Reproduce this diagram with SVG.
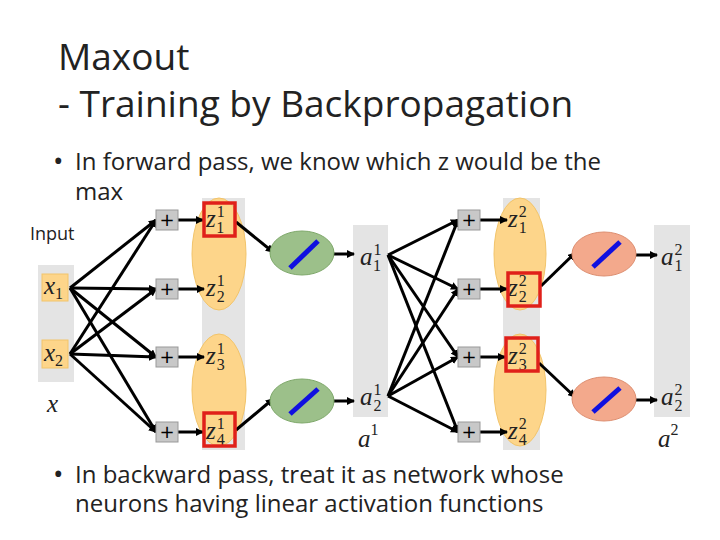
<svg xmlns="http://www.w3.org/2000/svg" width="720" height="540" viewBox="0 0 720 540">
<defs>
<marker id="ah" markerWidth="8" markerHeight="8" refX="7" refY="4" orient="auto" markerUnits="userSpaceOnUse"><path d="M0,0 L8,4 L0,8 z" fill="#000"/></marker>
<style>
.t{font-family:"Open Sans",Lato,sans-serif;fill:#222}
.m{font-family:"Liberation Serif",serif;font-style:italic;font-size:25px;fill:#222}
.s{font-size:16px;font-style:normal}
.col{fill:#e4e4e4}
.org{fill:#fdd58a;stroke:#f2c46a;stroke-width:1}
.plus{fill:#c8c8c8;stroke:#999;stroke-width:1}
.pt{font-family:"DejaVu Sans",sans-serif;font-size:18px;fill:#000;text-anchor:middle}
.red{fill:none;stroke:#e0201a;stroke-width:3.5}
.grn{fill:#9cc08a;stroke:#7ea86a}
.pnk{fill:#f3a98c;stroke:#dd8e70}
.bl{stroke:#1010e0;stroke-width:5}
.c{stroke:#000;stroke-width:3;fill:none;marker-end:url(#ah)}
</style>
</defs>
<rect width="720" height="540" fill="#fff"/>
<text class="t" x="58" y="70" font-size="37">Maxout</text>
<text class="t" x="58" y="117" font-size="37">- Training by Backpropagation</text>
<text class="t" x="53" y="171" font-size="28">•</text>
<text class="t" x="75" y="170" font-size="24">In forward pass, we know which z would be the</text>
<text class="t" x="75" y="200" font-size="24">max</text>
<text class="t" x="30" y="240" font-size="18">Input</text>
<text class="t" x="53" y="484" font-size="28">•</text>
<text class="t" x="75" y="483" font-size="24">In backward pass, treat it as network whose</text>
<text class="t" x="75" y="512" font-size="24">neurons having linear activation functions</text>

<g id="columns">
<rect class="col" x="38" y="265" width="36" height="117"/>
<rect class="col" x="202" y="198" width="43" height="252"/>
<rect class="col" x="353" y="225" width="35" height="192"/>
<rect class="col" x="503" y="198" width="37" height="252"/>
<rect class="col" x="654" y="225" width="36" height="192"/>
<ellipse class="org" cx="219" cy="254" rx="27" ry="56"/>
<ellipse class="org" cx="219" cy="390" rx="27" ry="56"/>
<ellipse class="org" cx="520" cy="254" rx="26" ry="56"/>
<ellipse class="org" cx="520" cy="390" rx="26" ry="56"/>
</g>

<g id="connectors">
<line class="c" x1="70" y1="288" x2="156" y2="220"/>
<line class="c" x1="70" y1="288" x2="156" y2="289"/>
<line class="c" x1="70" y1="288" x2="156" y2="357"/>
<line class="c" x1="70" y1="288" x2="156" y2="432"/>
<line class="c" x1="70" y1="354" x2="156" y2="220"/>
<line class="c" x1="70" y1="354" x2="156" y2="289"/>
<line class="c" x1="70" y1="354" x2="156" y2="357"/>
<line class="c" x1="70" y1="354" x2="156" y2="432"/>
<line class="c" x1="178" y1="220" x2="203" y2="220"/>
<line class="c" x1="178" y1="289" x2="204" y2="289"/>
<line class="c" x1="178" y1="357" x2="204" y2="357"/>
<line class="c" x1="178" y1="432" x2="203" y2="432"/>
<line class="c" x1="236" y1="222" x2="273" y2="252"/>
<line class="c" x1="236" y1="430" x2="273" y2="399"/>
<line class="c" x1="333" y1="254" x2="354" y2="254"/>
<line class="c" x1="333" y1="401" x2="354" y2="401"/>
<line class="c" x1="388" y1="255" x2="458" y2="220"/>
<line class="c" x1="388" y1="255" x2="458" y2="289"/>
<line class="c" x1="388" y1="255" x2="458" y2="357"/>
<line class="c" x1="388" y1="255" x2="458" y2="432"/>
<line class="c" x1="388" y1="396" x2="458" y2="220"/>
<line class="c" x1="388" y1="396" x2="458" y2="289"/>
<line class="c" x1="388" y1="396" x2="458" y2="357"/>
<line class="c" x1="388" y1="396" x2="458" y2="432"/>
<line class="c" x1="480" y1="220" x2="507" y2="220"/>
<line class="c" x1="480" y1="289" x2="507" y2="289"/>
<line class="c" x1="480" y1="357" x2="505" y2="357"/>
<line class="c" x1="480" y1="432" x2="507" y2="432"/>
<line class="c" x1="541" y1="286" x2="575" y2="253"/>
<line class="c" x1="539" y1="363" x2="575" y2="397"/>
<line class="c" x1="636" y1="255" x2="657" y2="255"/>
<line class="c" x1="636" y1="400" x2="657" y2="400"/>
</g>

<g id="inputs">
<rect x="42" y="274" width="26" height="27" fill="#fdd58a" stroke="#f2c46a"/>
<rect x="42" y="340" width="26" height="28" fill="#fdd58a" stroke="#f2c46a"/>
<text class="m" x="44" y="294">x<tspan class="s" dy="5" font-size="14">1</tspan></text>
<text class="m" x="44" y="361">x<tspan class="s" dy="5" font-size="14">2</tspan></text>
<text class="m" x="47" y="412" font-size="26">x</text>
</g>

<g id="plus">
<rect class="plus" x="156" y="210" width="22" height="20"/><text class="pt" x="167" y="226">+</text>
<rect class="plus" x="156" y="279" width="22" height="20"/><text class="pt" x="167" y="295">+</text>
<rect class="plus" x="156" y="347" width="22" height="20"/><text class="pt" x="167" y="363">+</text>
<rect class="plus" x="156" y="422" width="22" height="20"/><text class="pt" x="167" y="438">+</text>
<rect class="plus" x="458" y="210" width="22" height="20"/><text class="pt" x="469" y="226">+</text>
<rect class="plus" x="458" y="279" width="22" height="20"/><text class="pt" x="469" y="295">+</text>
<rect class="plus" x="458" y="347" width="22" height="20"/><text class="pt" x="469" y="363">+</text>
<rect class="plus" x="458" y="422" width="22" height="20"/><text class="pt" x="469" y="438">+</text>
</g>

<g id="z1">
<text class="m" x="206" y="227">z<tspan class="s" dy="-10" dx="1">1</tspan><tspan class="s" dy="16" dx="-8">1</tspan></text>
<text class="m" x="206" y="296">z<tspan class="s" dy="-10" dx="1">1</tspan><tspan class="s" dy="16" dx="-8">2</tspan></text>
<text class="m" x="206" y="364">z<tspan class="s" dy="-10" dx="1">1</tspan><tspan class="s" dy="16" dx="-8">3</tspan></text>
<text class="m" x="206" y="439">z<tspan class="s" dy="-10" dx="1">1</tspan><tspan class="s" dy="16" dx="-8">4</tspan></text>
<rect class="red" x="204" y="203" width="31" height="33"/>
<rect class="red" x="204" y="413" width="31" height="33"/>
</g>

<g id="z2">
<text class="m" x="508" y="227">z<tspan class="s" dy="-10" dx="1">2</tspan><tspan class="s" dy="16" dx="-8">1</tspan></text>
<text class="m" x="508" y="296">z<tspan class="s" dy="-10" dx="1">2</tspan><tspan class="s" dy="16" dx="-8">2</tspan></text>
<text class="m" x="508" y="364">z<tspan class="s" dy="-10" dx="1">2</tspan><tspan class="s" dy="16" dx="-8">3</tspan></text>
<text class="m" x="508" y="439">z<tspan class="s" dy="-10" dx="1">2</tspan><tspan class="s" dy="16" dx="-8">4</tspan></text>
<rect class="red" x="508" y="273" width="32" height="33"/>
<rect class="red" x="506" y="338" width="32" height="33"/>
</g>

<g id="act1">
<ellipse class="grn" cx="302" cy="253" rx="32" ry="22"/>
<line class="bl" x1="290" y1="268" x2="318" y2="241"/>
<ellipse class="grn" cx="302" cy="401" rx="32" ry="22"/>
<line class="bl" x1="290" y1="414" x2="318" y2="389"/>
</g>
<g id="act2">
<ellipse class="pnk" cx="604" cy="254" rx="32" ry="22"/>
<line class="bl" x1="593" y1="267" x2="620" y2="242"/>
<ellipse class="pnk" cx="604" cy="399" rx="32" ry="22"/>
<line class="bl" x1="593" y1="412" x2="620" y2="388"/>
</g>

<g id="a1">
<text class="m" x="360" y="265">a<tspan class="s" dy="-10" dx="1">1</tspan><tspan class="s" dy="16" dx="-8">1</tspan></text>
<text class="m" x="360" y="405">a<tspan class="s" dy="-10" dx="1">1</tspan><tspan class="s" dy="16" dx="-8">2</tspan></text>
<text class="m" x="358" y="447" font-size="28">a<tspan class="s" dy="-12" font-size="18">1</tspan></text>
</g>
<g id="a2">
<text class="m" x="661" y="265">a<tspan class="s" dy="-10" dx="1">2</tspan><tspan class="s" dy="16" dx="-8">1</tspan></text>
<text class="m" x="661" y="405">a<tspan class="s" dy="-10" dx="1">2</tspan><tspan class="s" dy="16" dx="-8">2</tspan></text>
<text class="m" x="658" y="447" font-size="28">a<tspan class="s" dy="-12" font-size="18">2</tspan></text>
</g>
</svg>
